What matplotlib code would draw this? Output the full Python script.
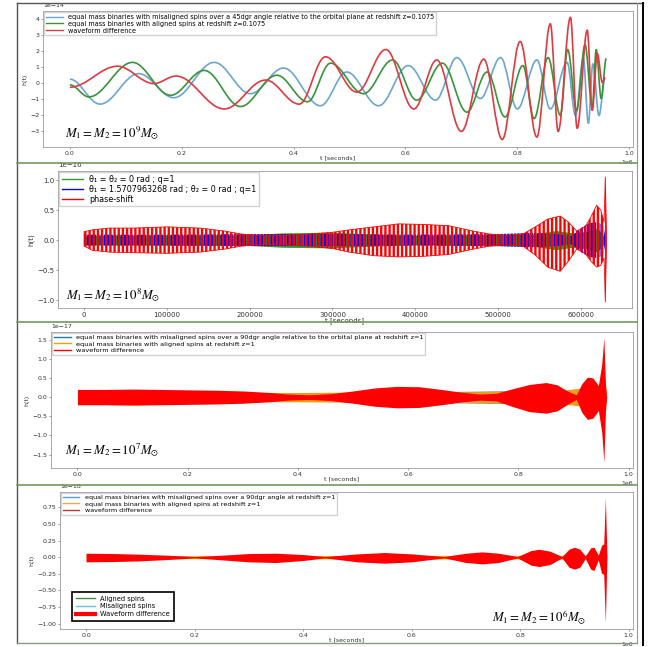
import numpy as np
import matplotlib
matplotlib.use("Agg")
import matplotlib.pyplot as plt
from matplotlib.path import Path
from matplotlib.patches import PathPatch
from matplotlib.lines import Line2D

plt.rcParams['mathtext.fontset'] = 'stix'
plt.rcParams['hatch.linewidth'] = 1.7

# --- 1e9 Msun, z=0.1075 : turning points of the three waveforms (t in 1e6 s, h in 1e-14)
t1_mis = np.array([0.0, 0.054, 0.123, 0.186, 0.258, 0.323, 0.382, 0.448, 0.495, 0.552, 0.605,
                   0.654, 0.692, 0.734, 0.77, 0.80, 0.835, 0.859, 0.889, 0.904, 0.918, 0.927,
                   0.935, 0.946, 0.957]) * 1e6
h1_mis = np.array([0.25, -1.3, 0.6, -0.9, 1.3, -0.65, 0.95, -1.4, 0.7, -1.4, 1.1,
                   -1.05, 1.6, -0.95, 1.6, -1.6, 1.45, -1.6, 1.3, -2.0, 1.55, -2.5,
                   1.2, -2.0, 0.4]) * 1e-14
t1_ali = np.array([0.0, 0.034, 0.112, 0.18, 0.24, 0.305, 0.37, 0.425, 0.466, 0.525, 0.577,
                   0.62, 0.666, 0.71, 0.746, 0.778, 0.81, 0.83, 0.855, 0.877, 0.89, 0.906,
                   0.921, 0.934, 0.941, 0.95, 0.959]) * 1e6
h1_ali = np.array([-0.1, -0.85, 1.3, -0.75, 0.8, -1.45, 0.5, -1.15, 1.25, -0.65, 1.45,
                   -1.05, 1.25, -1.8, 0.7, -2.1, 1.1, -2.2, 1.6, -2.0, 2.1, -1.7,
                   2.4, -1.5, 2.1, -0.95, 1.55]) * 1e-14
t1_dif = np.array([0.0, 0.085, 0.15, 0.19, 0.276, 0.35, 0.41, 0.457, 0.513, 0.565, 0.615,
                   0.656, 0.70, 0.74, 0.773, 0.805, 0.835, 0.859, 0.873, 0.895, 0.907,
                   0.925, 0.934, 0.943, 0.952, 0.957]) * 1e6
h1_dif = np.array([-0.25, 1.06, -0.02, 0.45, -1.6, 0.2, -1.3, 1.65, -0.55, 2.1, -1.6,
                   1.45, -3.0, 1.5, -3.5, 2.6, -3.35, 3.7, -3.0, 4.1, -2.8,
                   3.3, -1.7, 1.85, 0.05, 0.35]) * 1e-14

# --- 1e8 Msun : envelopes of the fast oscillations (t in s, h in 1e-16)
t2_red = np.array([0, 10000, 30000, 60000, 100000, 140000, 170000, 190000, 210000, 240000,
                   270000, 300000, 320000, 350000, 380000, 410000, 440000, 470000, 490000,
                   510000, 530000, 545000, 560000, 575000, 585000, 595000, 605000, 612000,
                   619000, 624000, 628000, 629500, 631000])
red2_hi = np.array([0.14, 0.17, 0.2, 0.2, 0.22, 0.2, 0.15, 0.1, 0.08, 0.08, 0.1, 0.13, 0.17,
                    0.22, 0.27, 0.26, 0.24, 0.15, 0.1, 0.08, 0.1, 0.22, 0.35, 0.4, 0.3, 0.15,
                    0.22, 0.38, 0.58, 0.5, 0.3, 1.05, 0.05]) * 1e-16
red2_lo = np.array([-0.1, -0.17, -0.2, -0.21, -0.22, -0.2, -0.15, -0.1, -0.08, -0.08, -0.1,
                    -0.14, -0.2, -0.26, -0.28, -0.27, -0.24, -0.15, -0.1, -0.08, -0.1, -0.25,
                    -0.45, -0.52, -0.35, -0.15, -0.22, -0.35, -0.45, -0.42, -0.3, -1.03,
                    -0.05]) * 1e-16
t2_blue = np.array([0, 100000, 200000, 300000, 400000, 500000, 540000, 570000, 590000,
                    600000, 610000, 620000, 627000, 630000])
blue2_amp = np.array([0.09, 0.09, 0.1, 0.1, 0.09, 0.1, 0.12, 0.1, 0.07, 0.2, 0.28, 0.3,
                      0.25, 0.02]) * 1e-16
t2_green = np.array([0, 200000, 240000, 300000, 350000, 400000, 540000, 570000, 590000,
                     610000, 620000, 630000])
green2_amp = np.array([0.08, 0.09, 0.12, 0.13, 0.1, 0.08, 0.1, 0.16, 0.12, 0.15, 0.2,
                       0.02]) * 1e-16

# --- 1e7 Msun, z=1 (t in 1e6 s, h in 1e-17)
t3_red = np.array([0, 0.05, 0.1, 0.15, 0.2, 0.25, 0.3, 0.35, 0.38, 0.42, 0.46, 0.5, 0.54,
                   0.58, 0.62, 0.66, 0.7, 0.73, 0.76, 0.79, 0.82, 0.85, 0.87, 0.89, 0.905,
                   0.915, 0.925, 0.935, 0.945, 0.951, 0.955, 0.958, 0.96]) * 1e6
red3_hi = np.array([0.2, 0.2, 0.21, 0.2, 0.19, 0.18, 0.16, 0.12, 0.08, 0.06, 0.09, 0.16,
                    0.24, 0.28, 0.27, 0.2, 0.12, 0.08, 0.1, 0.22, 0.33, 0.38, 0.32, 0.15,
                    0.06, 0.35, 0.52, 0.5, 0.3, 0.85, 1.54, 0.3, 0.0]) * 1e-17
red3_lo = np.array([-0.2, -0.2, -0.21, -0.2, -0.19, -0.18, -0.16, -0.12, -0.08, -0.06,
                    -0.09, -0.16, -0.24, -0.28, -0.27, -0.2, -0.12, -0.08, -0.1, -0.25,
                    -0.38, -0.42, -0.36, -0.18, -0.06, -0.4, -0.58, -0.55, -0.35, -0.9,
                    -1.7, -0.3, 0.0]) * 1e-17
t3_ali = np.array([0, 0.3, 0.4, 0.5, 0.6, 0.7, 0.75, 0.8, 0.88, 0.905, 0.93, 0.95,
                   0.958, 0.96]) * 1e6
ali3_amp = np.array([0.1, 0.12, 0.12, 0.13, 0.13, 0.14, 0.15, 0.16, 0.18, 0.22, 0.25,
                     0.3, 0.35, 0.0]) * 1e-17
t3_mis = np.array([0, 0.5, 0.9, 0.96]) * 1e6
mis3_amp = np.array([0.1, 0.12, 0.18, 0.0]) * 1e-17

# --- 1e6 Msun, z=1 (t in 1e6 s, h in 1e-18)
t4_red = np.array([0, 0.05, 0.1, 0.15, 0.2, 0.25, 0.3, 0.35, 0.4, 0.44, 0.5, 0.55, 0.6,
                   0.66, 0.7, 0.73, 0.76, 0.795, 0.82, 0.835, 0.855, 0.877, 0.89, 0.9,
                   0.91, 0.92, 0.93, 0.936, 0.944, 0.95, 0.954, 0.957, 0.959, 0.96]) * 1e6
red4_hi = np.array([0.06, 0.055, 0.045, 0.03, 0.01, 0.03, 0.055, 0.06, 0.04, 0.01, 0.05,
                    0.07, 0.05, 0.01, 0.06, 0.08, 0.06, 0.01, 0.1, 0.12, 0.09, 0.01, 0.12,
                    0.15, 0.12, 0.02, 0.14, 0.15, 0.03, 0.18, 0.2, 0.89, 0.3, 0.0]) * 1e-18
red4_lo = np.array([-0.07, -0.065, -0.055, -0.035, -0.01, -0.04, -0.07, -0.08, -0.05,
                    -0.01, -0.07, -0.09, -0.07, -0.01, -0.08, -0.1, -0.08, -0.01, -0.12,
                    -0.14, -0.11, -0.01, -0.15, -0.18, -0.15, -0.02, -0.18, -0.2, -0.04,
                    -0.24, -0.26, -0.99, -0.3, 0.0]) * 1e-18
t4_ali = np.array([0, 0.5, 0.9, 0.96]) * 1e6
ali4_amp = np.array([0.02, 0.025, 0.03, 0.0]) * 1e-18

TXT = '#333333'


def wave_path(t, h):
    # smooth curve through successive turning points (flat tangent at each one)
    verts = [(t[0], h[0])]
    codes = [Path.MOVETO]
    for i in range(1, len(t)):
        dt = t[i] - t[i - 1]
        verts += [(t[i - 1] + 0.36 * dt, h[i - 1]), (t[i] - 0.36 * dt, h[i]), (t[i], h[i])]
        codes += [Path.CURVE4] * 3
    return Path(verts, codes)


def style(ax, fs):
    ax.tick_params(labelsize=fs, length=1.6, width=0.5, color='#777777', labelcolor=TXT, pad=1.0)
    for s in ax.spines.values():
        s.set_color('#9a9a9a')
        s.set_linewidth(0.6)
    for ot in (ax.xaxis.get_offset_text(), ax.yaxis.get_offset_text()):
        ot.set_fontsize(fs)
        ot.set_color(TXT)
    ax.set_xlabel('t [seconds]', fontsize=fs, labelpad=0, color=TXT)
    ax.set_ylabel('h(t)', fontsize=fs, labelpad=2, color=TXT)


def leg(ax, handles, fs):
    return ax.legend(handles=handles, loc='upper left', fontsize=fs, borderaxespad=0.15,
                     handlelength=2.6, labelspacing=0.12, borderpad=0.3, framealpha=0.85,
                     edgecolor='#cccccc', fancybox=False)


def mass_label(ax, x, y, power):
    ax.text(x, y, r'$M_1 = M_2 = 10^%d M_{\odot}$' % power, transform=ax.transAxes,
            fontsize=9.3, va='center', color='black')


fig = plt.figure(figsize=(6.48, 6.47), dpi=100)
fig.patch.set_facecolor('white')

# ---------------- panel 1
ax1 = fig.add_axes([0.0664, 0.7728, 0.9106, 0.2102])
c_mis1, c_ali1, c_dif1 = '#69a6d0', '#3a923a', '#e0393f'
for t, h, c in [(t1_mis, h1_mis, c_mis1), (t1_ali, h1_ali, c_ali1), (t1_dif, h1_dif, c_dif1)]:
    ax1.add_patch(PathPatch(wave_path(t, h), facecolor='none', edgecolor=c, lw=1.2))
ax1.set_xlim(-0.048e6, 1.007e6)
ax1.set_ylim(-3.97e-14, 4.5e-14)
ax1.set_xticks(np.arange(0, 1.01, 0.2) * 1e6)
ax1.set_yticks(np.arange(-3, 5) * 1e-14)
style(ax1, 4.5)
leg(ax1, [Line2D([], [], color=c_mis1, lw=1,
                 label='equal mass binaries with misaligned spins over a 45dgr angle relative to the orbital plane at redshift z=0.1075'),
          Line2D([], [], color=c_ali1, lw=1, label='equal mass binaries with aligned spins at redshift z=0.1075'),
          Line2D([], [], color=c_dif1, lw=1, label='waveform difference')], 4.7)
mass_label(ax1, 0.037, 0.1, 9)

# ---------------- panel 2
ax2 = fig.add_axes([0.0895, 0.524, 0.8855, 0.2117])
ax2.fill_between(t2_green, -green2_amp, green2_amp, color='#2ca02c', lw=0)
ax2.fill_between(t2_blue, -blue2_amp, blue2_amp, facecolor='none', edgecolor='#0000ff',
                 hatch='|||||', lw=0)
ax2.fill_between(t2_red, red2_lo, red2_hi, facecolor='none', edgecolor='#ff0000',
                 hatch='||||', lw=0.6)
ax2.set_xlim(-31500, 661500)
ax2.set_ylim(-1.13e-16, 1.15e-16)
ax2.set_xticks(np.arange(0, 600001, 100000))
ax2.set_yticks(np.arange(-1.0, 1.01, 0.5) * 1e-16)
style(ax2, 5)
leg(ax2, [Line2D([], [], color='#2ca02c', lw=1, label='θ₁ = θ₂ = 0 rad ; q=1'),
          Line2D([], [], color='#0000ff', lw=1, label='θ₁ = 1.5707963268 rad ; θ₂ = 0 rad ; q=1'),
          Line2D([], [], color='#ff0000', lw=1, label='phase-shift')], 5.8)
mass_label(ax2, 0.014, 0.095, 8)

# ---------------- panel 3
ax3 = fig.add_axes([0.0787, 0.2767, 0.8983, 0.2102])
ax3.fill_between(t3_mis, -mis3_amp, mis3_amp, color='#1f77b4', lw=0)
ax3.fill_between(t3_ali, -ali3_amp, ali3_amp, color='#f39c12', lw=0)
ax3.fill_between(t3_red, red3_lo, red3_hi, color='#ff0000', lw=0)
ax3.set_xlim(-0.048e6, 1.008e6)
ax3.set_ylim(-1.85e-17, 1.70e-17)
ax3.set_xticks(np.arange(0, 1.01, 0.2) * 1e6)
ax3.set_yticks(np.arange(-1.5, 1.51, 0.5) * 1e-17)
style(ax3, 4.5)
leg(ax3, [Line2D([], [], color='#1f77b4', lw=1,
                 label='equal mass binaries with misaligned spins over a 90dgr angle relative to the orbital plane at redshift z=1'),
          Line2D([], [], color='#f39c12', lw=1, label='equal mass binaries with aligned spins at redshift z=1'),
          Line2D([], [], color='#ff0000', lw=1, label='waveform difference')], 4.65)
mass_label(ax3, 0.024, 0.13, 7)

# ---------------- panel 4
ax4 = fig.add_axes([0.0926, 0.0278, 0.8843, 0.2117])
ax4.fill_between(t4_ali, -ali4_amp, ali4_amp, color='#ffb000', lw=0)
ax4.fill_between(t4_red, red4_lo, red4_hi, color='#ff0000', lw=0)
ax4.set_xlim(-0.048e6, 1.008e6)
ax4.set_ylim(-1.08e-18, 0.98e-18)
ax4.set_xticks(np.arange(0, 1.01, 0.2) * 1e6)
ax4.set_yticks(np.arange(-1.0, 0.76, 0.25) * 1e-18)
style(ax4, 4.5)
top_leg = leg(ax4, [Line2D([], [], color='#5a9bd5', lw=1,
                           label='equal mass binaries with misaligned spins over a 90dgr angle at redshift z=1'),
                    Line2D([], [], color='#ff9f40', lw=1, label='equal mass binaries with aligned spins at redshift z=1'),
                    Line2D([], [], color='#c0392b', lw=1, label='waveform difference')], 4.6)
ax4.add_artist(top_leg)
box = ax4.legend(handles=[Line2D([], [], color='#3c8f4a', lw=1, label='Aligned spins'),
                          Line2D([], [], color='#5bc8e8', lw=1, label='Misaligned spins'),
                          Line2D([], [], color='#ff0000', lw=3, label='Waveform difference')],
                 loc='lower left', bbox_to_anchor=(0.021, 0.058), borderaxespad=0, fontsize=4.8,
                 handlelength=2.8, labelspacing=0.25, borderpad=0.6, fancybox=False, framealpha=1)
box.get_frame().set_edgecolor('black')
box.get_frame().set_linewidth(1.2)
mass_label(ax4, 0.754, 0.08, 6)

# ---------------- panel frames
x0, x1, xr = 17 / 648, 637 / 648, 643 / 648
fig.add_artist(Line2D([x0, xr], [1 - 3 / 647] * 2, color='#555555', lw=1.0))
fig.add_artist(Line2D([x0, x0], [1 - 3 / 647, 1 - 643 / 647], color='#555555', lw=1.0))
fig.add_artist(Line2D([xr, xr], [1 - 3 / 647, 1 - 645 / 647], color='black', lw=1.4))
fig.add_artist(Line2D([x1, x1], [1 - 3 / 647, 1 - 643 / 647], color='#8aa57a', lw=0.8))
for yp in [163, 322, 485]:
    fig.add_artist(Line2D([x0, x1], [1 - yp / 647] * 2, color='#6f9a5f', lw=1.2))
fig.add_artist(Line2D([x0, x1], [1 - 643 / 647] * 2, color='#8a9a80', lw=1.0))

fig.savefig('out.png', dpi=100)
